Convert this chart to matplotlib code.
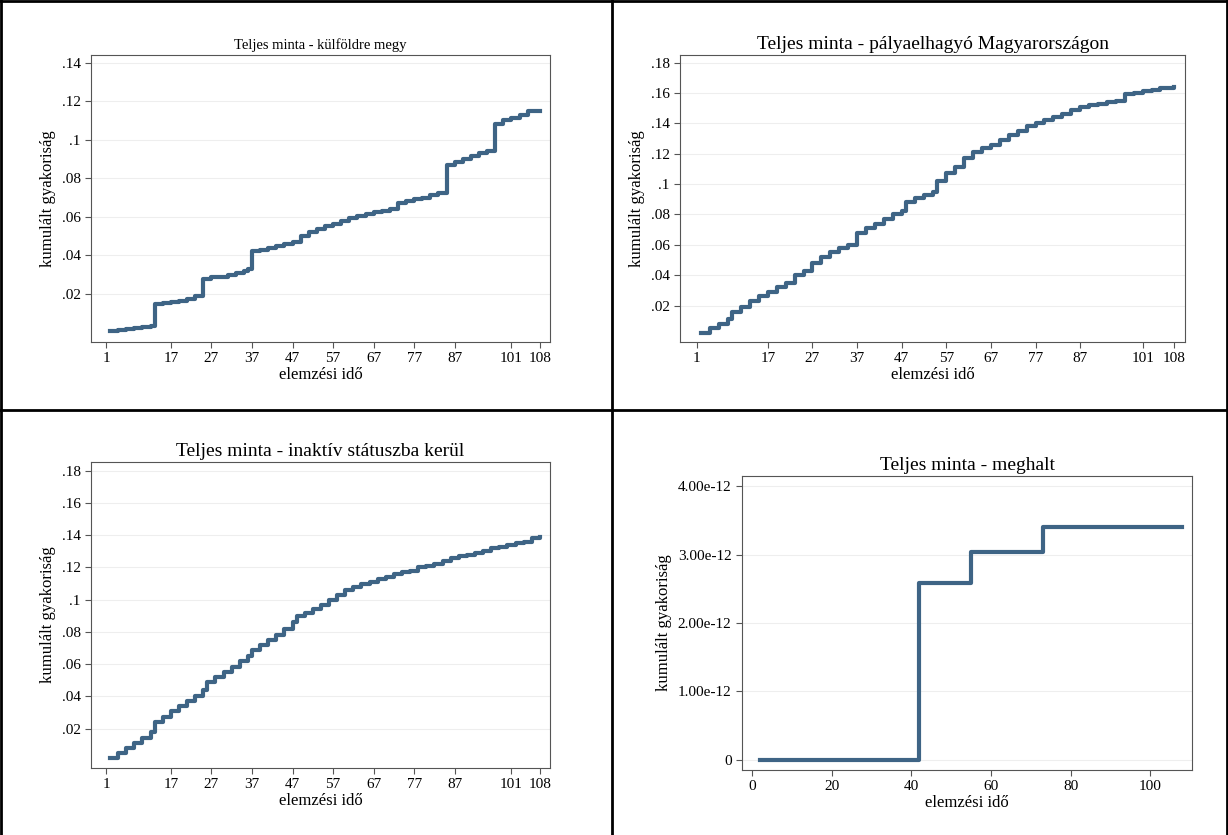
import matplotlib
matplotlib.use("Agg")
import matplotlib.pyplot as plt
from matplotlib.lines import Line2D

plt.rcParams['font.family'] = ['Liberation Serif', 'DejaVu Serif']

# Panel 1: külföldre megy
t1 = [2, 4, 6, 8, 10, 12, 13, 15, 17, 19, 21, 23, 25, 27, 29, 31, 33, 35, 36, 37, 39, 41, 43, 45, 47, 49, 51, 53, 55, 57, 59, 61, 63, 65, 67, 69, 71, 73, 75, 77, 79, 81, 83, 85, 87, 89, 91, 93, 95, 97, 99, 101, 103, 105, 108]
v1 = [0.0005, 0.001, 0.0015, 0.0025, 0.003, 0.0035, 0.0145, 0.0155, 0.016, 0.0165, 0.0175, 0.019, 0.0275, 0.0285, 0.029, 0.030, 0.031, 0.032, 0.033, 0.042, 0.043, 0.044, 0.045, 0.046, 0.047, 0.050, 0.052, 0.0535, 0.055, 0.0565, 0.058, 0.0595, 0.0605, 0.0615, 0.0625, 0.063, 0.064, 0.067, 0.068, 0.069, 0.070, 0.0715, 0.0725, 0.087, 0.0885, 0.090, 0.0915, 0.093, 0.094, 0.108, 0.110, 0.1115, 0.113, 0.115, 0.115]

# Panel 2: pályaelhagyó Magyarországon
t2 = [2, 4, 6, 8, 9, 11, 13, 15, 17, 19, 21, 23, 25, 27, 29, 31, 33, 35, 37, 39, 41, 43, 45, 47, 48, 50, 52, 54, 55, 57, 59, 61, 63, 65, 67, 69, 71, 73, 75, 77, 79, 81, 83, 85, 87, 89, 91, 93, 95, 97, 99, 101, 103, 105, 108]
v2 = [0.002, 0.005, 0.008, 0.011, 0.016, 0.019, 0.023, 0.026, 0.029, 0.032, 0.035, 0.040, 0.043, 0.048, 0.052, 0.055, 0.058, 0.060, 0.068, 0.071, 0.074, 0.077, 0.080, 0.082, 0.088, 0.091, 0.093, 0.095, 0.102, 0.107, 0.111, 0.117, 0.121, 0.124, 0.126, 0.129, 0.132, 0.135, 0.138, 0.140, 0.142, 0.144, 0.146, 0.149, 0.151, 0.152, 0.153, 0.154, 0.155, 0.159, 0.160, 0.161, 0.162, 0.163, 0.164]

# Panel 3: inaktív státuszba kerül
t3 = [2, 4, 6, 8, 10, 12, 13, 15, 17, 19, 21, 23, 25, 26, 28, 30, 32, 34, 36, 37, 39, 41, 43, 45, 47, 48, 50, 52, 54, 56, 58, 60, 62, 64, 66, 68, 70, 72, 74, 76, 78, 80, 82, 84, 86, 88, 90, 92, 94, 96, 98, 100, 102, 104, 106, 108]
v3 = [0.002, 0.005, 0.008, 0.011, 0.014, 0.018, 0.024, 0.027, 0.031, 0.034, 0.037, 0.040, 0.044, 0.049, 0.052, 0.055, 0.058, 0.062, 0.065, 0.069, 0.072, 0.075, 0.078, 0.082, 0.086, 0.090, 0.092, 0.094, 0.097, 0.100, 0.103, 0.106, 0.108, 0.110, 0.111, 0.113, 0.114, 0.116, 0.117, 0.118, 0.120, 0.121, 0.122, 0.124, 0.126, 0.127, 0.128, 0.129, 0.130, 0.132, 0.133, 0.134, 0.135, 0.136, 0.138, 0.139]

# Panel 4: meghalt
t4 = [2, 42, 55, 73, 108]
v4 = [0.0, 2.58e-12, 3.04e-12, 3.40e-12, 3.40e-12]

xt_a = [1, 17, 27, 37, 47, 57, 67, 77, 87, 101, 108]
yt_a = [0.02, 0.04, 0.06, 0.08, 0.1, 0.12, 0.14]
yt_b = [0.02, 0.04, 0.06, 0.08, 0.1, 0.12, 0.14, 0.16, 0.18]
yt_4 = [0, 1e-12, 2e-12, 3e-12, 4e-12]
yl_4 = ['0', '1.00e-12', '2.00e-12', '3.00e-12', '4.00e-12']
xt_4 = [0, 20, 40, 60, 80, 100]

W, H = 1228, 835
fig = plt.figure(figsize=(W/100, H/100), dpi=100)
LC = '#3e6485'

def mk(l, r, t, b):
    return fig.add_axes([l/W, 1-b/H, (r-l)/W, (b-t)/H])

def style(ax, title, tsize):
    ax.set_title(title, fontsize=tsize, pad=4)
    ax.set_xlabel('elemzési idő', fontsize=12, labelpad=1)
    ax.set_ylabel('kumulált gyakoriság', fontsize=12)
    for s in ax.spines.values():
        s.set_color('#555555'); s.set_linewidth(0.8)
    ax.grid(axis='y', color='#eeeeee', linewidth=0.8)
    ax.set_axisbelow(True)
    ax.tick_params(labelsize=11, color='#555555', length=4, width=0.8)

def fmt(v):
    s = ('%.2f' % v).rstrip('0')
    return s[1:] if s.startswith('0') else s

panels = [
    ((91, 550, 55, 342), t1, v1, 'Teljes minta - külföldre megy', 10.5, yt_a, (-0.005, 0.144)),
    ((680, 1185, 55, 342), t2, v2, 'Teljes minta - pályaelhagyó Magyarországon', 14, yt_b, (-0.004, 0.185)),
    ((91, 550, 462, 768), t3, v3, 'Teljes minta - inaktív státuszba kerül', 14, yt_b, (-0.0045, 0.1855)),
]
for (l, r, t, b), tx, vy, title, ts, yt, yl in panels:
    ax = mk(l, r, t, b)
    ax.step(tx, vy, where='post', color=LC, lw=3)
    ax.set_xlim(-2.7, 110.5)
    ax.set_ylim(*yl)
    ax.set_xticks(xt_a)
    ax.set_yticks(yt)
    ax.set_yticklabels([fmt(v) for v in yt])
    style(ax, title, ts)

ax = mk(742, 1192, 476, 770)
ax.step(t4, v4, where='post', color=LC, lw=3)
ax.set_xlim(-2.5, 110.5)
ax.set_ylim(-0.15e-12, 4.15e-12)
ax.set_xticks(xt_4)
ax.set_yticks(yt_4)
ax.set_yticklabels(yl_4)
style(ax, 'Teljes minta - meghalt', 14)

for line in [([0, 1], [1-1/H, 1-1/H]), ([0, 1], [1-410/H]*2), ([1/W, 1/W], [0, 1]),
             ([612/W]*2, [0, 1]), ([1-1/W]*2, [0, 1])]:
    fig.add_artist(Line2D(line[0], line[1], color='black', lw=2))

fig.savefig('out.png', dpi=100)
